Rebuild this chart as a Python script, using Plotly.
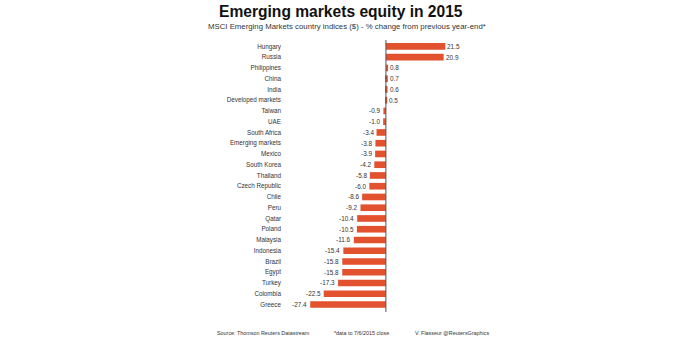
import plotly.graph_objects as go

countries = ["Hungary", "Russia", "Philippines", "China", "India", "Developed markets",
             "Taiwan", "UAE", "South Africa", "Emerging markets", "Mexico", "South Korea",
             "Thailand", "Czech Republic", "Chile", "Peru", "Qatar", "Poland", "Malaysia",
             "Indonesia", "Brazil", "Egypt", "Turkey", "Colombia", "Greece"]
pct_change = [21.5, 20.9, 0.8, 0.7, 0.6, 0.5,
              -0.9, -1.0, -3.4, -3.8, -3.9, -4.2,
              -5.8, -6.0, -8.6, -9.2, -10.4, -10.5, -11.6,
              -15.4, -15.8, -15.8, -17.3, -22.5, -27.4]

W, H = 692, 338
L, R, T, B = 303, 237, 40, 26
BAR = "#E2522F"
TXT = "#333333"
FONT = "Liberation Sans, Arial, sans-serif"

fig = go.Figure(go.Bar(
    x=pct_change, y=countries, orientation="h",
    marker=dict(color=BAR, line=dict(width=0)),
    width=0.62, cliponaxis=False,
))

# value labels hugging the end of each bar
for c, v in zip(countries, pct_change):
    fig.add_annotation(x=v, y=c, xref="x", yref="y", text=f"{v:.1f}",
                       showarrow=False, xanchor="left" if v >= 0 else "right",
                       xshift=0 if v >= 0 else -1, yanchor="middle",
                       font=dict(size=6.4, color=TXT, family=FONT))

fig.update_layout(
    width=W, height=H,
    margin=dict(l=L, r=R, t=T, b=B, pad=0),
    paper_bgcolor="white", plot_bgcolor="white",
    showlegend=False,
    font=dict(family=FONT, color=TXT),
    xaxis=dict(range=[-30, 25], showgrid=False, zeroline=False,
               showticklabels=False, ticks="", fixedrange=True),
    yaxis=dict(categoryorder="array", categoryarray=countries,
               range=[24.7, -0.6], showgrid=False, zeroline=False,
               ticks="", tickfont=dict(size=6.3, color=TXT, family=FONT),
               ticklabelstandoff=21, fixedrange=True),
)

# zero line running the full height of the bars
fig.add_shape(type="line", xref="x", yref="y", x0=0, x1=0, y0=-0.6, y1=24.7,
              line=dict(color="#555555", width=1))

fig.add_annotation(text="<b>Emerging markets equity in 2015</b>", xref="paper", yref="paper",
                   x=(341 - L) / (W - L - R), y=1 + (T - 12) / (H - T - B),
                   xanchor="center", yanchor="middle", showarrow=False,
                   font=dict(size=15.6, color="#111111", family=FONT))
fig.add_annotation(text="MSCI Emerging Markets country indices ($) - % change from previous year-end*",
                   xref="paper", yref="paper",
                   x=(347 - L) / (W - L - R), y=1 + (T - 27) / (H - T - B),
                   xanchor="center", yanchor="middle", showarrow=False,
                   font=dict(size=7.8, color=TXT, family=FONT))

footer = [("Source: Thomson Reuters Datastream", 215),
          ("*data to 7/6/2015 close", 332),
          ("V. Flasseur @ReutersGraphics", 413)]
for txt, px in footer:
    fig.add_annotation(text=txt, xref="paper", yref="paper",
                       x=(px - L) / (W - L - R), y=-(333 - (H - B)) / (H - T - B),
                       xanchor="left", yanchor="middle", showarrow=False,
                       font=dict(size=5.4, color=TXT, family=FONT))

fig.write_html("out.html")
